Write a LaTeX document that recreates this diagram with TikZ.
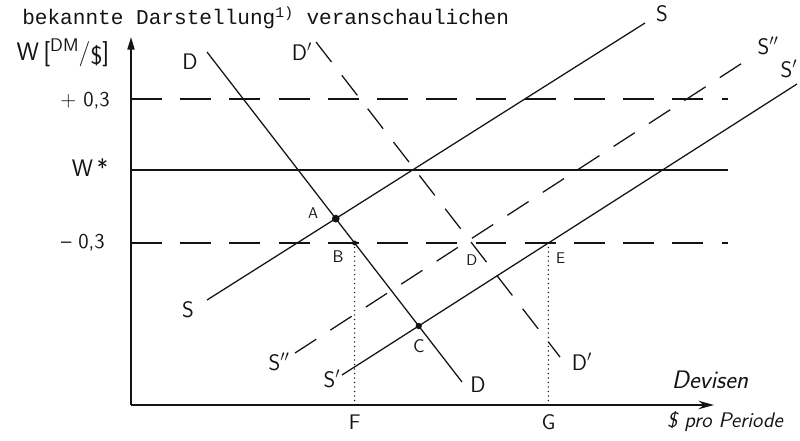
\documentclass[tikz,border=0pt]{standalone}
\usepackage{fontspec}
\newfontfamily\typewriter{Liberation Mono}
\usepackage{tikz}
\usetikzlibrary{positioning,calc,arrows.meta}
\definecolor{ink}{HTML}{141414}
\tikzset{
  >=Stealth,
  every node/.style={font=\sffamily, text=ink, inner sep=1pt},
  % --- nodes
  crvlbl/.style = {font=\sffamily\fontsize{16}{16}\selectfont},
  ptlbl/.style  = {font=\sffamily\fontsize{11}{11}\selectfont},
  axlbl/.style  = {font=\sffamily\fontsize{15}{15}\selectfont},
  ticklbl/.style= {font=\sffamily\fontsize{15}{15}\selectfont},
  hand/.style   = {font=\sffamily\itshape\fontsize{16}{16}\selectfont},
  isect/.style  = {circle, fill=ink, inner sep=0pt, minimum size=4pt},
  % --- edges
  axis/.style   = {draw=ink, line width=1.3pt},
  sline/.style  = {draw=ink, line width=0.9pt},
  shifted/.style= {sline, dash pattern=on 18pt off 12pt},
  band/.style   = {sline, dash pattern=on 22pt off 13pt},
  drop/.style   = {draw=ink, line width=1.1pt, line cap=round, dash pattern=on 0pt off 3.2pt},
}

\begin{document}
\begin{tikzpicture}[x=0.025cm, y=-0.025cm]
  \useasboundingbox (0,0) rectangle (800,440);

  % line of the page above the figure
  \node[anchor=base west, inner sep=0pt, font=\typewriter\fontsize{15}{17}\selectfont]
       (caption) at (22,25) {bekannte Darstellung\textsuperscript{1)} veranschaulichen};

  % axes
  \coordinate (O)    at (131,405);
  \coordinate (ytop) at (131,37);
  \coordinate (xend) at (714,405);
  \draw[axis, -{Triangle[length=9pt,width=5pt]}] (O) -- (ytop);
  \draw[axis, -{Stealth[length=11pt,width=6pt]}] (O) -- (xend);
  \node[axlbl, fill=white, font=\sffamily\fontsize{18}{18}\selectfont] (ylbl) at (63,53)
       {W\,[\raisebox{0.35em}{\fontsize{13}{13}\selectfont DM}/\raisebox{-0.15em}{\$}]};
  \node[hand, font=\sffamily\itshape\fontsize{18}{18}\selectfont] (xlbl1) at (710,380) {Devisen};
  \node[hand, font=\sffamily\itshape\fontsize{15}{15}\selectfont] (xlbl2) at (725,422) {\$ pro Periode};

  % exchange rate band
  \coordinate (up0) at (131,99);  \coordinate (up1) at (728,99);
  \coordinate (mid0) at (131,170); \coordinate (mid1) at (728,170);
  \coordinate (lo0) at (131,243); \coordinate (lo1) at (728,243);
  \draw[band]  (up0) -- (up1);
  \draw[sline] (mid0) -- (mid1);
  \draw[band]  (lo0) -- (lo1);
  \node[ticklbl] (tup)  at (85,101) {+ 0,3};
  \node[ticklbl, font=\sffamily\fontsize{17}{17}\selectfont] (tmid) at (90,168) {W\,*};
  \node[ticklbl] (tlo)  at (83,243) {-- 0,3};

  % supply and demand
  \coordinate (S0)  at (207,300); \coordinate (S1)  at (645,23);
  \coordinate (Ss0) at (295,353); \coordinate (Ss1) at (750,58);
  \coordinate (Sp0) at (342,375); \coordinate (Sp1) at (797,84);
  \coordinate (D0)  at (207,52);  \coordinate (D1)  at (462,382);
  \coordinate (Dp0) at (316,42);  \coordinate (Dp1) at (560,357);
  \draw[sline]   (S0) -- (S1);
  \draw[shifted] (Ss0) -- (Ss1);
  \draw[sline]   (Sp0) -- (Sp1);
  \draw[sline]   (D0) -- (D1);
  \draw[shifted] (Dp0) -- (Dp1);

  \node[crvlbl] (lS0)  at (188,310) {S};
  \node[crvlbl] (lS1)  at (662,14)  {S};
  \node[crvlbl] (lSs0) at (279,362) {S$''$};
  \node[crvlbl] (lSs1) at (768,46)  {S$''$};
  \node[crvlbl] (lSp0) at (332,379) {S$'$};
  \node[crvlbl] (lSp1) at (789,69)  {S$'$};
  \node[crvlbl] (lD0)  at (190,62)  {D};
  \node[crvlbl] (lD1)  at (478,385) {D};
  \node[crvlbl] (lDp0) at (302,52)  {D$'$};
  \node[crvlbl] (lDp1) at (582,362) {D$'$};

  % intersections
  \coordinate (A) at (intersection of S0--S1 and D0--D1);
  \coordinate (B) at (intersection of D0--D1 and lo0--lo1);
  \coordinate (C) at (intersection of Sp0--Sp1 and D0--D1);
  \coordinate (Dd) at (intersection of Dp0--Dp1 and lo0--lo1);
  \coordinate (E) at (intersection of Sp0--Sp1 and lo0--lo1);
  \node[isect, minimum size=5.5pt] at (A) {};
  \node[isect, minimum size=3.5pt] at (B) {};
  \node[isect, minimum size=4.5pt] at (C) {};
  \node[ptlbl] (lA) at (313,213) {A};
  \node[ptlbl, font=\sffamily\fontsize{12}{12}\selectfont] (lB) at (338,257) {B};
  \node[ptlbl, font=\sffamily\fontsize{13}{13}\selectfont, below=3mm of C] (lC) {C};
  \node[ptlbl, below=2.5mm of Dd] (lDd) {D};
  \node[ptlbl, below right=2mm and 1.5mm of E] (lE) {E};

  % quantities on the axis
  \coordinate (F) at (B |- O);
  \coordinate (G) at (E |- O);
  \foreach \p/\q in {B/F,E/G} \draw[drop] (\p) -- (\q);
  \node[axlbl, below=2mm of F] (lF) {F};
  \node[axlbl, below=2mm of G] (lG) {G};
\end{tikzpicture}
\end{document}
